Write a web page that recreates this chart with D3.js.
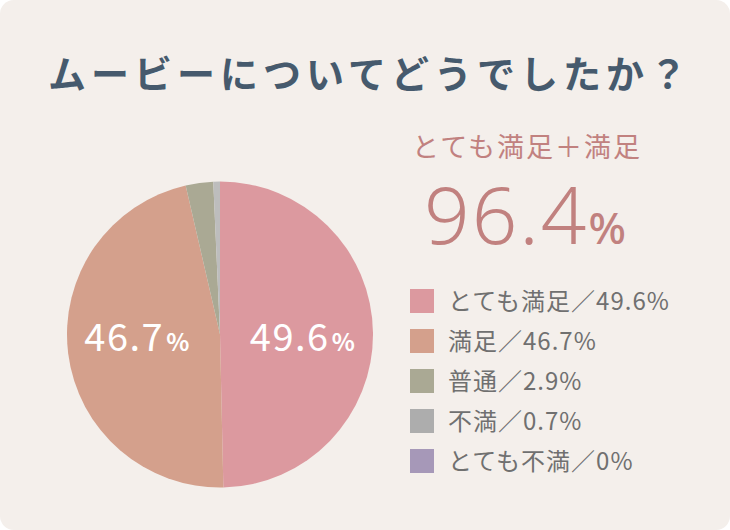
<!DOCTYPE html>
<html><head><meta charset="utf-8">
<script src="https://cdn.jsdelivr.net/npm/d3@7"></script>
<style>
html,body{margin:0;padding:0;background:#ffffff;}
svg{display:block;}
</style></head>
<body>
<svg id="chart" width="730" height="530"></svg>
<script>
const categories = ["とても満足","満足","普通","不満","とても不満"];
const values = [49.6, 46.7, 2.9, 0.7, 0];
const colors = ["#dc999f","#d4a08c","#aaa994","#bdbdbd","#a698b8"];
const legendColors = ["#dc999f","#d4a08c","#aaa994","#adadad","#a698b8"];
const title = "ムービーについてどうでしたか？";
const subtitle = "とても満足＋満足";
const totalLabel = "96.4";

const svg = d3.select("#chart");
const jp = "'Noto Sans CJK JP','Noto Sans',sans-serif";

svg.append("rect").attr("x",0).attr("y",0).attr("width",730).attr("height",530)
  .attr("rx",14).attr("fill","#f4efeb");

svg.append("text").attr("x",370).attr("y",88).attr("text-anchor","middle")
  .attr("font-family",jp).attr("font-weight",700).attr("font-size",38)
  .attr("letter-spacing",5).attr("fill","#465a6d").text(title);

const cx = 220, cy = 334.5, r = 153;
const pie = d3.pie().sort(null).value(d=>d)(values);
const arc = d3.arc().innerRadius(0).outerRadius(r);
const g = svg.append("g").attr("transform",`translate(${cx},${cy})`);
g.selectAll("path").data(pie).enter().append("path")
  .attr("d",arc).attr("fill",(d,i)=>colors[i]);

const labelArc = d3.arc().innerRadius(r*0.53).outerRadius(r*0.53);
pie.slice(0,2).forEach((d,i)=>{
  const c = labelArc.centroid(d);
  const t = g.append("text").attr("x",c[0]+ (i===0?2:-2)).attr("y",16)
    .attr("text-anchor","middle").attr("fill","#ffffff")
    .attr("font-family",jp).attr("font-size",38).attr("letter-spacing",1.5);
  t.append("tspan").text(values[i].toFixed(1));
  t.append("tspan").attr("font-size",24).attr("font-weight",700).attr("dx",2).text("%");
});

svg.append("text").attr("x",527).attr("y",157).attr("text-anchor","middle")
  .attr("font-family",jp).attr("font-size",27).attr("letter-spacing",2)
  .attr("fill","#c1817f").text(subtitle);

const big = svg.append("text").attr("x",526).attr("y",244).attr("text-anchor","middle")
  .attr("font-family","'Noto Sans',sans-serif").attr("font-weight",300).attr("font-size",80)
  .attr("letter-spacing",2).attr("fill","#c1817f");
big.append("tspan").text(totalLabel);
big.append("tspan").attr("font-size",44).attr("font-weight",500).attr("dx",0).text("%");

const leg = svg.append("g");
categories.forEach((c,i)=>{
  const y = 289 + i*40;
  leg.append("rect").attr("x",410).attr("y",y).attr("width",24).attr("height",24).attr("fill",legendColors[i]);
  leg.append("text").attr("x",448).attr("y",y+21)
    .attr("font-family",jp).attr("font-size",24).attr("letter-spacing",1)
    .attr("fill","#707070").text(`${c}／${values[i]}%`);
});
</script>
</body></html>
